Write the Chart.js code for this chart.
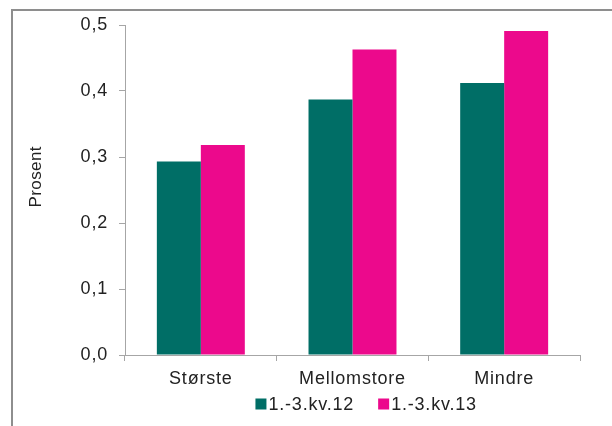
<!DOCTYPE html>
<html>
<head>
<meta charset="utf-8">
<script src="https://cdn.jsdelivr.net/npm/chart.js@4"></script>
<style>
  html, body { margin: 0; padding: 0; background: #fff; }
  #wrap { position: relative; width: 612px; height: 426px; }
</style>
</head>
<body>
<div id="wrap"><canvas id="c" width="612" height="426"></canvas></div>
<script>
// Share of revenue (percent) by company size, first three quarters
const categories = ['Største', 'Mellomstore', 'Mindre'];
const seriesNames = ['1.-3.kv.12', '1.-3.kv.13'];
const values12 = [0.293, 0.387, 0.412];
const values13 = [0.318, 0.463, 0.491];
const yTicks = [0, 0.1, 0.2, 0.3, 0.4, 0.5];
const seriesColors = ['#006E66', '#EC098C'];
const yTitle = 'Prosent';

const FONT = '"Liberation Sans", Arial, sans-serif';
const TEXT = '#222222';
const AXIS = '#a6a6a6';
const LETTER_SPACING = '0.8px';

// Slightly open text spacing for all canvas text (re-applied because
// resizing the canvas resets the context state)
const spacingPlugin = {
  id: 'textSpacing',
  beforeUpdate(chart) { chart.ctx.letterSpacing = LETTER_SPACING; },
  beforeLayout(chart) { chart.ctx.letterSpacing = LETTER_SPACING; },
  beforeDraw(chart) { chart.ctx.letterSpacing = LETTER_SPACING; }
};

// Outer frame around the plot
const framePlugin = {
  id: 'frame',
  beforeDraw(chart) {
    const ctx = chart.ctx;
    ctx.save();
    ctx.strokeStyle = '#8e8e8e';
    ctx.lineWidth = 2;
    ctx.beginPath();
    ctx.moveTo(12, chart.height);
    ctx.lineTo(12, 10);
    ctx.lineTo(chart.width, 10);
    ctx.stroke();
    ctx.restore();
  }
};

// Vertical axis title, placed a little above the middle of the plot
const yTitlePlugin = {
  id: 'yTitle',
  afterDraw(chart) {
    const ctx = chart.ctx;
    const area = chart.chartArea;
    ctx.save();
    ctx.font = '17px ' + FONT;
    ctx.letterSpacing = '0.4px';
    ctx.fillStyle = TEXT;
    ctx.textAlign = 'center';
    ctx.textBaseline = 'middle';
    ctx.translate(36, area.top + (area.bottom - area.top) * 0.46);
    ctx.rotate(-Math.PI / 2);
    ctx.fillText(yTitle, 0, 0);
    ctx.restore();
  }
};

// Compact legend: small square followed closely by the label
const legendPlugin = {
  id: 'compactLegend',
  afterDraw(chart) {
    const ctx = chart.ctx;
    const box = 11, gap = 2, spacing = 24;
    ctx.save();
    ctx.font = '18px ' + FONT;
    ctx.textBaseline = 'middle';
    const items = chart.data.datasets.map(ds => ({
      label: ds.label, color: ds.backgroundColor,
      w: box + gap + ctx.measureText(ds.label).width
    }));
    const total = items.reduce((s, it) => s + it.w, 0) + spacing * (items.length - 1);
    const cx = chart.chartArea.left + (chart.chartArea.right - chart.chartArea.left) * 0.53;
    let x = cx - total / 2;
    const y = chart.chartArea.bottom + 49;
    items.forEach(it => {
      ctx.fillStyle = it.color;
      ctx.fillRect(x, y - box / 2, box, box);
      ctx.fillStyle = TEXT;
      ctx.fillText(it.label, x + box + gap, y + 1);
      x += it.w + spacing;
    });
    ctx.restore();
  }
};

new Chart(document.getElementById('c'), {
  type: 'bar',
  data: {
    labels: categories,
    datasets: [
      { label: seriesNames[0], data: values12, backgroundColor: seriesColors[0] },
      { label: seriesNames[1], data: values13, backgroundColor: seriesColors[1] }
    ]
  },
  options: {
    responsive: false,
    animation: false,
    devicePixelRatio: 1,
    layout: { padding: { left: 20, right: 32, top: 25, bottom: 40 } },
    datasets: { bar: { categoryPercentage: 0.58, barPercentage: 1.0, borderWidth: 0 } },
    plugins: {
      legend: { display: false },
      tooltip: { enabled: false }
    },
    scales: {
      x: {
        offset: true,
        grid: { display: true, offset: true, drawOnChartArea: false, drawTicks: true, tickLength: 6, color: AXIS },
        border: { display: true, color: AXIS, width: 1 },
        ticks: { color: TEXT, font: { family: FONT, size: 18 }, padding: 7, maxRotation: 0 },
        afterFit(scale) { scale.height = 31; }
      },
      y: {
        min: 0,
        max: 0.5,
        afterBuildTicks(scale) { scale.ticks = yTicks.map(v => ({ value: v })); },
        grid: { display: true, drawOnChartArea: false, drawTicks: true, tickLength: 6, color: AXIS },
        border: { display: true, color: AXIS, width: 1 },
        ticks: {
          color: TEXT, font: { family: FONT, size: 18 }, padding: 11,
          callback: v => v.toFixed(1).replace('.', ',')
        },
        afterFit(scale) { scale.width = 105; }
      }
    }
  },
  plugins: [spacingPlugin, framePlugin, yTitlePlugin, legendPlugin]
});
</script>
</body>
</html>
